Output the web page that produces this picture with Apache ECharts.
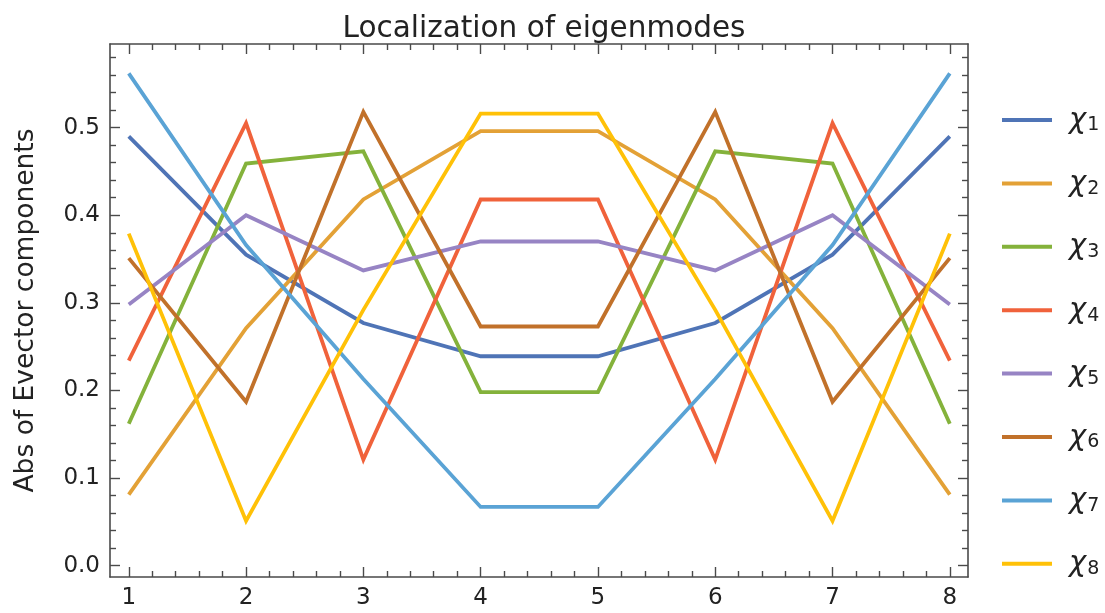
<!DOCTYPE html>
<html>
<head>
<meta charset="utf-8">
<script src="https://cdn.jsdelivr.net/npm/echarts@6/dist/echarts.min.js"></script>
<style>
  html, body { margin: 0; padding: 0; background: #fff; }
  #chart { width: 1105px; height: 613px; }
</style>
</head>
<body>
<div id="chart"></div>
<script>
// Site index along the chain
const sites = [1, 2, 3, 4, 5, 6, 7, 8];

// |components| of each eigenvector
const chi1 = [0.490, 0.355, 0.277, 0.239, 0.239, 0.277, 0.355, 0.490];
const chi2 = [0.081, 0.271, 0.418, 0.496, 0.496, 0.418, 0.271, 0.081];
const chi3 = [0.162, 0.459, 0.473, 0.198, 0.198, 0.473, 0.459, 0.162];
const chi4 = [0.234, 0.505, 0.121, 0.418, 0.418, 0.121, 0.505, 0.234];
const chi5 = [0.298, 0.400, 0.337, 0.370, 0.370, 0.337, 0.400, 0.298];
const chi6 = [0.351, 0.187, 0.518, 0.273, 0.273, 0.518, 0.187, 0.351];
const chi7 = [0.562, 0.366, 0.213, 0.067, 0.067, 0.213, 0.366, 0.562];
const chi8 = [0.379, 0.051, 0.292, 0.516, 0.516, 0.292, 0.051, 0.379];

const seriesNames = ['χ1', 'χ2', 'χ3', 'χ4', 'χ5', 'χ6', 'χ7', 'χ8'];
const seriesValues = [chi1, chi2, chi3, chi4, chi5, chi6, chi7, chi8];
const colors = ['#4F74B6', '#E3A136', '#84B23B', '#F0623B', '#9784C4', '#C1712A', '#5AA3D5', '#FFC107'];

// Tick labels
const xTicks = [1, 2, 3, 4, 5, 6, 7, 8];
const yTicks = [0.0, 0.1, 0.2, 0.3, 0.4, 0.5];

// Axis ranges
const xMin = 0.84, xMax = 8.155;
const yMin = -0.013, yMax = 0.5955;

// Minor tick positions (5 per major step)
const xMinor = [];
for (let k = 0; k <= 35; k++) { const v = +(1 + k * 0.2).toFixed(2); if (v >= xMin && v <= xMax && k % 5 !== 0) xMinor.push(v); }
const yMinor = [];
for (let k = 0; k <= 29; k++) { const v = +(k * 0.02).toFixed(2); if (v >= yMin && v <= yMax && k % 5 !== 0) yMinor.push(v); }

const FONT = 'DejaVu Sans';
const frameColor = '#4a4a4a';

function xAxisDef(pos, ticks, len, withLabels, withLine) {
  return {
    type: 'value', position: pos, min: xMin, max: xMax,
    axisLine: { show: withLine, onZero: false, lineStyle: { color: frameColor, width: 1.6 } },
    axisTick: { show: true, inside: true, length: len, customValues: ticks, lineStyle: { color: frameColor, width: 1.4 } },
    axisLabel: withLabels ? { show: true, customValues: ticks, margin: 10, fontFamily: FONT, fontSize: 23, color: '#222', formatter: v => String(Math.round(v)) } : { show: false },
    splitLine: { show: false }
  };
}
function yAxisDef(pos, ticks, len, withLabels, withLine) {
  return {
    type: 'value', position: pos, min: yMin, max: yMax,
    axisLine: { show: withLine, onZero: false, lineStyle: { color: frameColor, width: 1.6 } },
    axisTick: { show: true, inside: true, length: len, customValues: ticks, lineStyle: { color: frameColor, width: 1.4 } },
    axisLabel: withLabels ? { show: true, customValues: ticks, margin: 10, fontFamily: FONT, fontSize: 23, color: '#222', formatter: v => v.toFixed(1) } : { show: false },
    splitLine: { show: false }
  };
}

const yMain = yAxisDef('left', yTicks, 10, true, true);
Object.assign(yMain, {
  name: 'Abs of Evector components', nameLocation: 'middle', nameGap: 70,
  nameTextStyle: { fontFamily: FONT, fontSize: 26.5, color: '#222' }
});

const chart = echarts.init(document.getElementById('chart'), null, { renderer: 'canvas' });
chart.setOption({
  animation: false,
  backgroundColor: '#fff',
  title: {
    text: 'Localization of eigenmodes',
    left: 539, top: 9, textAlign: 'center',
    textStyle: { fontFamily: FONT, fontSize: 29.5, fontWeight: 'normal', color: '#222' }
  },
  grid: { left: 110, right: 137, top: 44, bottom: 36, containLabel: false },
  xAxis: [
    xAxisDef('bottom', xTicks, 10, true, true),
    xAxisDef('bottom', xMinor, 6, false, false),
    xAxisDef('top', xTicks, 10, false, true),
    xAxisDef('top', xMinor, 6, false, false)
  ],
  yAxis: [
    yMain,
    yAxisDef('left', yMinor, 6, false, false),
    yAxisDef('right', yTicks, 10, false, true),
    yAxisDef('right', yMinor, 6, false, false)
  ],
  legend: {
    orient: 'vertical', left: 997, top: 99,
    itemWidth: 50, itemHeight: 4, itemGap: 31.4,
    icon: 'rect',
    data: seriesNames,
    formatter: name => '{c|χ}{s|' + name.slice(1) + '}',
    textStyle: {
      lineHeight: 32,
      rich: {
        c: { fontFamily: FONT, fontStyle: 'italic', fontSize: 29, color: '#222', padding: [0, 1, 0, 12], lineHeight: 32 },
        s: { fontFamily: FONT, fontSize: 19, color: '#222', padding: [11, 0, 0, 0], lineHeight: 32 }
      }
    }
  },
  series: seriesNames.map((name, i) => ({
    name: name,
    type: 'line',
    xAxisIndex: 0, yAxisIndex: 0,
    data: sites.map((s, j) => [s, seriesValues[i][j]]),
    showSymbol: false,
    symbol: 'none',
    color: colors[i],
    lineStyle: { width: 3.8, color: colors[i], join: 'miter' }
  }))
});
</script>
</body>
</html>
